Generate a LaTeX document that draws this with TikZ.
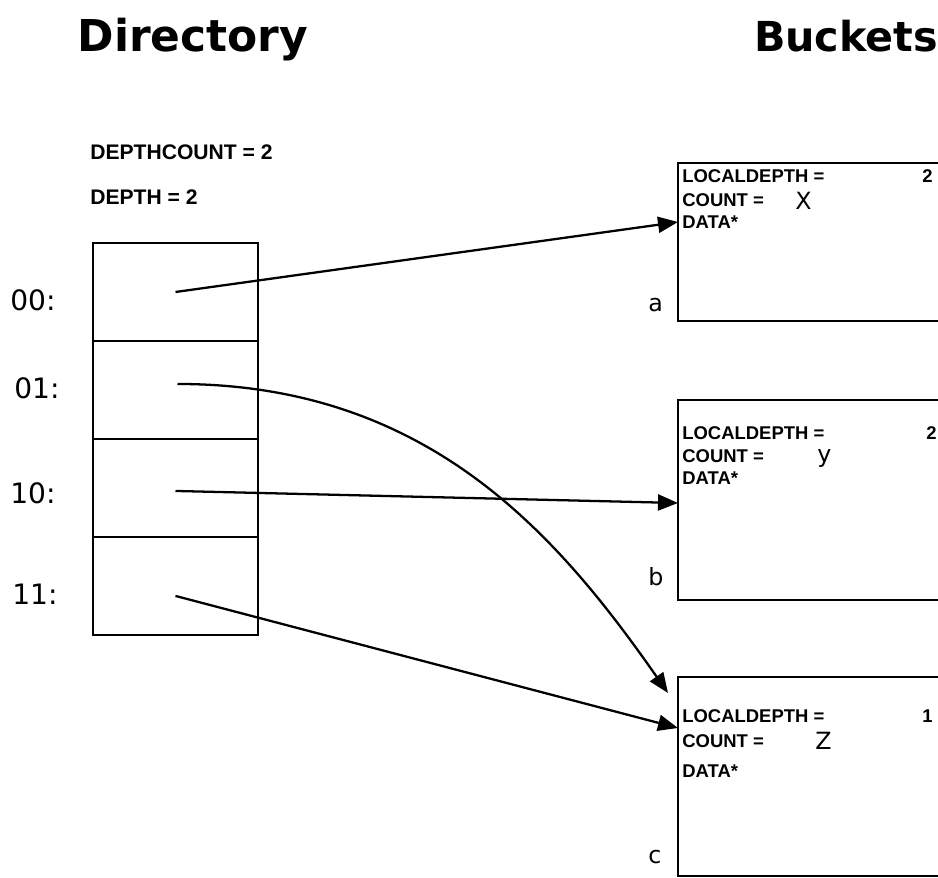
\documentclass[tikz,border=0pt]{standalone}
\usepackage{fontspec}
\setmainfont{DejaVu Sans}
\newfontfamily\labelfont{Liberation Sans}
\usetikzlibrary{positioning}
\usetikzlibrary{arrows.meta}
\usetikzlibrary{calc}

\begin{document}
\begin{tikzpicture}[x=0.02cm,y=-0.02cm]
\tikzset{cell/.style={rectangle,draw,line width=1pt,minimum width=3.3cm,minimum height=1.96cm, inner sep=0pt, outer sep=0pt}}
\tikzset{bucket/.style={rectangle,draw,line width=1pt,minimum width=6cm, anchor=north west, inner sep=0pt, outer sep=0pt}}
\tikzset{title/.style={font=\fontsize{25}{28}\selectfont\bfseries, anchor=base, inner sep=0pt}}
\tikzset{info/.style={font=\labelfont\fontsize{10.5}{12}\selectfont\bfseries, anchor=west, inner sep=0pt}}
\tikzset{slot/.style={font=\fontsize{16}{18}\selectfont, anchor=west, inner sep=0pt}}
\tikzset{val/.style={font=\fontsize{13.5}{15}\selectfont, anchor=west, inner sep=0pt}}
\tikzset{ptr/.style={line width=1.3pt, -{Triangle[length=0.4cm,width=0.32cm]}}}
\useasboundingbox (0,0) rectangle (938,878);
\clip (0,0) rectangle (938,878);
% titles
\node[title] (dirtitle) at (193,52) {Directory};
\node[title, font=\fontsize{23.5}{28}\selectfont\bfseries] (buckettitle) at (846,52) {Buckets};
% directory
\node[info, font=\labelfont\fontsize{12}{14}\selectfont\bfseries] (depthcount) at (90,152) {DEPTHCOUNT = 2};
\node[info, font=\labelfont\fontsize{12}{14}\selectfont\bfseries] (depth) at (90,197) {DEPTH = 2};
\node[cell] (cell00) at (175.5,292) {};
\node[cell, below=0pt of cell00] (cell01) {};
\node[cell, below=0pt of cell01] (cell10) {};
\node[cell, below=0pt of cell10] (cell11) {};
\node[slot] (lab00) at (10,300) {00:};
\node[slot] (lab01) at (14,388) {01:};
\node[slot] (lab10) at (10,493) {10:};
\node[slot] (lab11) at (12,594) {11:};
% buckets
\node[bucket, minimum height=3.16cm] (bucketA) at (678,163) {};
\node[bucket, minimum height=4cm] (bucketB) at (678,400) {};
\node[bucket, minimum height=3.98cm] (bucketC) at (678,677) {};
\node[info] (ldepthA) at (682,176) {LOCALDEPTH =};
\node[info] (ldvalA) at (922,176) {2};
\node[info] (countA) at (682,200) {COUNT =};
\node[val] (cvalA) at (795,201) {X};
\node[info] (dataA) at (682,222) {DATA*};
\node[val] (nameA) at (648,305) {a};
\node[info] (ldepthB) at (682,433) {LOCALDEPTH =};
\node[info] (ldvalB) at (926,433) {2};
\node[info] (countB) at (682,456) {COUNT =};
\node[val] (cvalB) at (817,458) {y};
\node[info] (dataB) at (682,478) {DATA*};
\node[val] (nameB) at (648,577) {b};
\node[info] (ldepthC) at (682,716) {LOCALDEPTH =};
\node[info] (ldvalC) at (922,716) {1};
\node[info] (countC) at (682,741) {COUNT =};
\node[val] (cvalC) at (815,741) {Z};
\node[info] (dataC) at (682,771) {DATA*};
\node[val] (nameC) at (648,857) {c};
% pointers
\draw[ptr] (cell00.center) -- ($(bucketA.north west)+(0,59)$);
\draw[ptr] ($(cell01.center)+(2,-6)$) .. controls +(250,0) and +(-111,-159) .. ($(bucketC.north west)+(-10,16)$);
\draw[ptr] ($(cell10.center)+(0,3)$) -- ($(bucketB.north west)+(0,103)$);
\draw[ptr] ($(cell11.center)+(0,10)$) -- ($(bucketC.north west)+(0,51)$);
\end{tikzpicture}
\end{document}
